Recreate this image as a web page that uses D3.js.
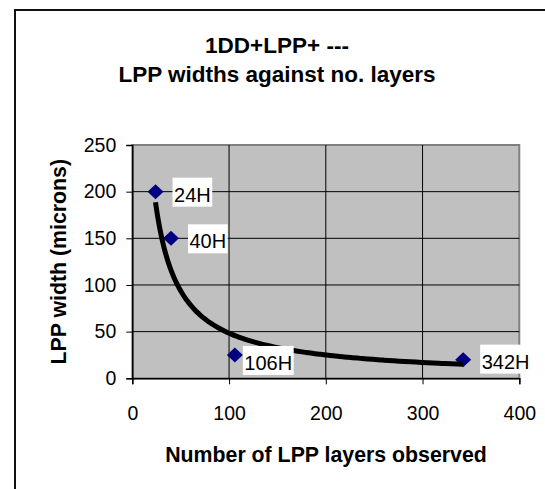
<!DOCTYPE html>
<html lang="en">
<head>
    <meta charset="UTF-8">
    <title>LPP widths against no. layers</title>
    <script src="https://d3js.org/d3.v7.min.js"></script>
    <style>
        body { margin: 0; background: #fff; }
        text { font-family: "Liberation Sans", Arial, sans-serif; }
    </style>
</head>
<body>
    <script>
        // data
        const layers = [24, 40, 106, 342];
        const widths = [200, 150, 25, 20];
        const pointLabels = ["24H", "40H", "106H", "342H"];
        const xTicks = [0, 100, 200, 300, 400];
        const yTicks = [0, 50, 100, 150, 200, 250];

        // where each label sits relative to its point
        const labelOffsets = [[17, 10], [17, 10], [8, 15], [17, 9]];

        const w = 545;
        const h = 489;

        const svg = d3.select("body")
            .append("svg")
            .attr("width", w)
            .attr("height", h);

        // chart frame (runs off the right and bottom of the picture)
        svg.append("rect")
            .attr("x", 15)
            .attr("y", 10)
            .attr("width", 600)
            .attr("height", 600)
            .attr("fill", "#fff")
            .attr("stroke", "#111")
            .attr("stroke-width", 2);

        const xScale = d3.scaleLinear()
            .domain([0, 400])
            .range([132.3, 519.3]);

        const yScale = d3.scaleLinear()
            .domain([0, 250])
            .range([378.3, 145]);

        // plot area
        svg.append("rect")
            .attr("x", xScale(0))
            .attr("y", yScale(250))
            .attr("width", xScale(400) - xScale(0))
            .attr("height", yScale(0) - yScale(250))
            .attr("fill", "#c0c0c0")
            .attr("stroke", "#808080")
            .attr("stroke-width", 2);

        // gridlines
        svg.append("g")
            .selectAll("line")
            .data(yTicks.slice(1, -1))
            .enter()
            .append("line")
            .attr("x1", xScale(0))
            .attr("x2", xScale(400))
            .attr("y1", (d) => yScale(d))
            .attr("y2", (d) => yScale(d))
            .attr("stroke", "#000")
            .attr("stroke-width", 1);

        svg.append("g")
            .selectAll("line")
            .data(xTicks.slice(1, -1))
            .enter()
            .append("line")
            .attr("x1", (d) => xScale(d))
            .attr("x2", (d) => xScale(d))
            .attr("y1", yScale(0))
            .attr("y2", yScale(250))
            .attr("stroke", "#000")
            .attr("stroke-width", 1);

        // axes
        const xAxis = d3.axisBottom(xScale)
            .tickValues(xTicks)
            .tickSize(6)
            .tickPadding(22)
            .tickFormat(d3.format("d"));

        const yAxis = d3.axisLeft(yScale)
            .tickValues(yTicks)
            .tickSize(6)
            .tickPadding(10)
            .tickFormat(d3.format("d"));

        const gx = svg.append("g")
            .attr("transform", "translate(0," + yScale(0) + ")")
            .call(xAxis);

        const gy = svg.append("g")
            .attr("transform", "translate(" + xScale(0) + ",0)")
            .call(yAxis);

        [gx, gy].forEach((g) => {
            g.select(".domain").attr("stroke", "#000").attr("stroke-width", 1.5);
            g.selectAll(".tick line").attr("stroke", "#000");
            g.selectAll(".tick text")
                .attr("fill", "#000")
                .style("font-size", "19.5px")
                .style("font-family", "'Liberation Sans', Arial, sans-serif");
        });

        // power trendline fitted to the points (least squares in log space)
        const lx = layers.map((d) => Math.log(d));
        const ly = widths.map((d) => Math.log(d));
        const mx = d3.mean(lx);
        const my = d3.mean(ly);
        const b = d3.sum(lx, (d, i) => (d - mx) * (ly[i] - my)) / d3.sum(lx, (d) => (d - mx) * (d - mx));
        const a = Math.exp(my - b * mx);

        const xs = d3.range(0, 101).map((i) => layers[0] + (layers[3] - layers[0]) * Math.pow(i / 100, 2));
        const line = d3.line()
            .x((d) => xScale(d))
            .y((d) => yScale(a * Math.pow(d, b)))
            .curve(d3.curveMonotoneX);

        // markers
        svg.append("g")
            .selectAll("path")
            .data(layers)
            .enter()
            .append("path")
            .attr("transform", (d, i) => "translate(" + xScale(d) + "," + yScale(widths[i]) + ")")
            .attr("d", "M0,-7.5L8,0L0,7.5L-8,0Z")
            .attr("fill", "#000080");

        svg.append("path")
            .datum(xs)
            .attr("d", line)
            .attr("fill", "none")
            .attr("stroke", "#000")
            .attr("stroke-width", 5);

        // point labels on white boxes
        const labels = svg.append("g")
            .selectAll("g")
            .data(pointLabels)
            .enter()
            .append("g")
            .attr("transform", (d, i) => "translate(" + (xScale(layers[i]) + labelOffsets[i][0]) + "," + (yScale(widths[i]) + labelOffsets[i][1]) + ")");

        labels.append("text")
            .text((d) => d)
            .attr("x", 1.5)
            .attr("y", 0)
            .style("font-size", "20px")
            .attr("fill", "#000");

        labels.insert("rect", "text")
            .each(function () {
                const t = this.parentNode.querySelector("text").getBBox();
                d3.select(this)
                    .attr("x", 0)
                    .attr("y", -24)
                    .attr("width", t.width + 3)
                    .attr("height", 29)
                    .attr("fill", "#fff");
            });

        // titles
        svg.append("text")
            .attr("x", 277)
            .attr("y", 53)
            .attr("text-anchor", "middle")
            .style("font-size", "22.5px")
            .style("font-weight", "bold")
            .text("1DD+LPP+ ---");

        svg.append("text")
            .attr("x", 277)
            .attr("y", 82)
            .attr("text-anchor", "middle")
            .style("font-size", "22.5px")
            .style("font-weight", "bold")
            .text("LPP widths against no. layers");

        svg.append("text")
            .attr("x", 326)
            .attr("y", 461.5)
            .attr("text-anchor", "middle")
            .style("font-size", "21.3px")
            .style("font-weight", "bold")
            .text("Number of LPP layers observed");

        svg.append("text")
            .attr("transform", "translate(66,261.7) rotate(-90)")
            .attr("text-anchor", "middle")
            .style("font-size", "21.3px")
            .style("font-weight", "bold")
            .text("LPP width (microns)");
    </script>
</body>
</html>
